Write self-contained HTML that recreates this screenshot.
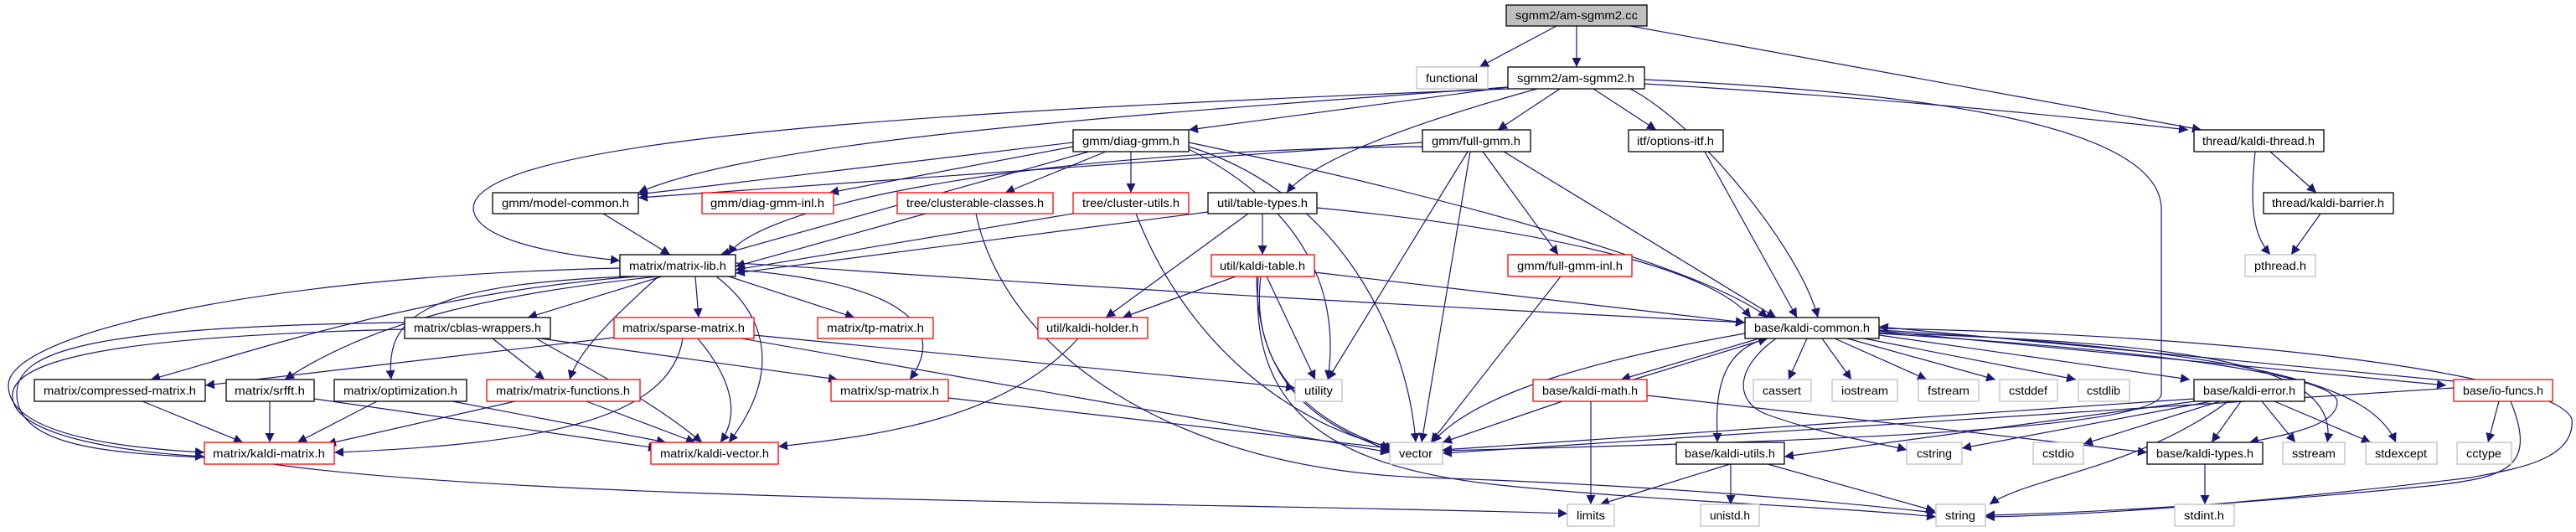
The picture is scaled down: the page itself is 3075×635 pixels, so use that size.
<!DOCTYPE html>
<html><head><meta charset="utf-8"><style>
html,body{margin:0;padding:0;background:#fff;}
svg{display:block;}
text{font-family:"Liberation Sans",sans-serif;font-size:14px;fill:#000;}
</style></head><body>
<svg width="3075" height="635" viewBox="0 0 3075 635" xmlns="http://www.w3.org/2000/svg">
<defs>
<marker id="a" viewBox="0 0 10 10" refX="10" refY="5" markerWidth="11" markerHeight="11" markerUnits="userSpaceOnUse" orient="auto">
<path d="M0,0 L10,5 L0,10 z" fill="#191970"/>
</marker>
</defs>
<g fill="none" stroke="#191970" stroke-width="1.2" marker-end="url(#a)">
<path d="M1858,31 L1766,80"/>
<path d="M1882,31 L1882,80"/>
<path d="M1946,31 L2628,155"/>
<path d="M1800,104 L1419,155"/>
<path d="M1862,106 L1788,155"/>
<path d="M1902,106 L1977,155"/>
<path d="M1835,106 C1640,160 1560,200 1536,230"/>
<path d="M1946,106 C2030,150 2150,300 2170,379"/>
<path d="M1963,100 Q2300,120 2612,155"/>
<path d="M1800,104 C1300,140 900,170 762,230"/>
<path d="M1800,106 C1200,130 560,160 565,250 C570,290 680,305 740,311"/>
<path d="M1963,95 C2300,110 2580,150 2580,250 L2580,470 C2580,520 2000,530 1722,538"/>
<path d="M1281,170 L762,232"/>
<path d="M1281,175 L990,230"/>
<path d="M1300,181 L860,304"/>
<path d="M1320,181 L1200,230"/>
<path d="M1350,181 L1350,230"/>
<path d="M1419,170 C1800,250 2050,330 2110,379"/>
<path d="M1419,175 C1600,230 1680,400 1690,528"/>
<path d="M1419,178 C1560,250 1600,350 1585,453"/>
<path d="M1698,170 L762,236"/>
<path d="M1698,175 C1200,180 900,250 870,304"/>
<path d="M1770,181 L1860,304"/>
<path d="M1795,181 L2120,379"/>
<path d="M1755,181 L1697,528"/>
<path d="M1752,181 L1585,453"/>
<path d="M2035,181 L2145,379"/>
<path d="M2710,181 L2765,230"/>
<path d="M2692,181 C2685,250 2690,280 2710,304"/>
<path d="M2770,255 L2735,304"/>
<path d="M720,255 L800,304"/>
<path d="M1105,255 L878,318"/>
<path d="M1165,255 C1200,420 1400,560 1700,570 C2000,580 2200,600 2311,612"/>
<path d="M1281,255 L878,322"/>
<path d="M1356,255 C1420,420 1550,510 1665,535"/>
<path d="M1442,253 L878,326"/>
<path d="M1507,255 L1507,304"/>
<path d="M1490,255 L1320,379"/>
<path d="M1572,248 C1900,280 2050,330 2090,379"/>
<path d="M1475,330 L1340,379"/>
<path d="M1512,330 L1570,453"/>
<path d="M1505,330 C1490,450 1580,510 1660,535"/>
<path d="M1500,330 C1500,480 1600,515 1665,540"/>
<path d="M1502,330 C1490,500 1600,560 1800,580 C2000,600 2200,605 2311,617"/>
<path d="M1569,325 L2083,385"/>
<path d="M1863,330 L1708,528"/>
<path d="M790,330 L630,379"/>
<path d="M830,330 L834,379"/>
<path d="M870,330 L1020,379"/>
<path d="M878,322 C1050,335 1140,380 1086,453"/>
<path d="M760,330 C500,350 300,420 180,453"/>
<path d="M785,330 C600,350 450,380 340,453"/>
<path d="M750,330 C500,340 460,380 467,453"/>
<path d="M786,330 C730,380 690,420 680,453"/>
<path d="M740,320 C300,330 10,400 10,460 C10,520 150,535 244,540"/>
<path d="M855,330 C920,380 930,450 870,528"/>
<path d="M878,314 C1000,320 1200,340 2083,385"/>
<path d="M588,404 L650,453"/>
<path d="M483,393 C200,400 20,420 15,470 C10,520 150,540 244,545"/>
<path d="M640,404 C720,450 780,480 838,528"/>
<path d="M645,404 L1000,453"/>
<path d="M483,385 C100,390 20,420 20,470 C20,550 200,540 300,550 C600,600 1500,600 1871,613"/>
<path d="M733,403 L245,460"/>
<path d="M815,404 C800,500 650,530 399,540"/>
<path d="M833,404 C880,460 880,500 860,528"/>
<path d="M900,400 L1546,463"/>
<path d="M885,404 L1659,540"/>
<path d="M170,479 L290,528"/>
<path d="M322,479 L322,528"/>
<path d="M375,476 L785,535"/>
<path d="M450,479 L355,528"/>
<path d="M540,479 L795,528"/>
<path d="M615,479 L390,530"/>
<path d="M700,479 L830,528"/>
<path d="M1132,475 L1659,535"/>
<path d="M1287,404 C1200,500 1050,520 929,533"/>
<path d="M2083,398 C1900,430 1760,470 1710,528"/>
<path d="M2100,404 L1935,453"/>
<path d="M1950,453 L2110,404"/>
<path d="M2110,404 C2040,420 2050,500 2050,528"/>
<path d="M2157,404 L2135,453"/>
<path d="M2175,404 L2210,453"/>
<path d="M2190,404 L2300,453"/>
<path d="M2205,404 L2382,453"/>
<path d="M2225,404 L2478,453"/>
<path d="M2243,400 L2614,453"/>
<path d="M2243,395 L2920,460"/>
<path d="M2929,455 L2243,390"/>
<path d="M2243,398 C2600,420 2790,450 2790,480 C2790,510 2720,520 2685,528"/>
<path d="M2243,397 C2600,410 2795,430 2778,528"/>
<path d="M2243,394 C2700,420 2830,460 2860,528"/>
<path d="M2120,404 C2070,440 2070,480 2110,495 C2180,520 2250,530 2276,537"/>
<path d="M2243,392 C2700,400 3050,450 3070,500 C3075,550 3000,560 2950,570 C2700,600 2500,615 2370,617"/>
<path d="M1865,479 L1722,528"/>
<path d="M1899,479 L1899,602"/>
<path d="M1966,472 L2563,540"/>
<path d="M2619,476 L1722,537"/>
<path d="M2620,479 L2130,545"/>
<path d="M2640,479 L2342,535"/>
<path d="M2650,479 L2487,530"/>
<path d="M2675,479 L2640,528"/>
<path d="M2700,479 L2740,528"/>
<path d="M2715,479 L2830,528"/>
<path d="M2660,479 C2550,560 2420,570 2375,602"/>
<path d="M2929,463 L1722,541"/>
<path d="M2983,479 L2970,528"/>
<path d="M2997,479 C3030,560 2990,570 2900,580 C2700,600 2500,612 2370,615"/>
<path d="M2065,554 L1910,602"/>
<path d="M2066,554 L2066,602"/>
<path d="M2110,554 L2310,610"/>
<path d="M2632,554 L2632,602"/>
</g>
<g stroke-width="1.3" text-anchor="middle">
<!-- node helper: rect + text -->
<rect x="1798" y="6" width="168" height="25" fill="#bfbfbf" stroke="#000"/><text x="1882" y="23" textLength="146" lengthAdjust="spacingAndGlyphs">sgmm2/am-sgmm2.cc</text>
<rect x="1691" y="80" width="85" height="26" fill="#fff" stroke="#bfbfbf"/><text x="1733" y="98" textLength="62" lengthAdjust="spacingAndGlyphs">functional</text>
<rect x="1800" y="80" width="163" height="26" fill="#fff" stroke="#000"/><text x="1881" y="98" textLength="140" lengthAdjust="spacingAndGlyphs">sgmm2/am-sgmm2.h</text>
<rect x="1281" y="155" width="138" height="26" fill="#fff" stroke="#000"/><text x="1350" y="173" textLength="116" lengthAdjust="spacingAndGlyphs">gmm/diag-gmm.h</text>
<rect x="1698" y="155" width="129" height="26" fill="#fff" stroke="#000"/><text x="1762" y="173" textLength="106" lengthAdjust="spacingAndGlyphs">gmm/full-gmm.h</text>
<rect x="1944" y="155" width="113" height="26" fill="#fff" stroke="#000"/><text x="2000" y="173" textLength="92" lengthAdjust="spacingAndGlyphs">itf/options-itf.h</text>
<rect x="2619" y="155" width="155" height="26" fill="#fff" stroke="#000"/><text x="2696" y="173" textLength="134" lengthAdjust="spacingAndGlyphs">thread/kaldi-thread.h</text>
<rect x="588" y="230" width="174" height="25" fill="#fff" stroke="#000"/><text x="675" y="247" textLength="152" lengthAdjust="spacingAndGlyphs">gmm/model-common.h</text>
<rect x="838" y="230" width="157" height="25" fill="#fff" stroke="#f00"/><text x="916" y="247" textLength="136" lengthAdjust="spacingAndGlyphs">gmm/diag-gmm-inl.h</text>
<rect x="1071" y="230" width="186" height="25" fill="#fff" stroke="#f00"/><text x="1164" y="247" textLength="164" lengthAdjust="spacingAndGlyphs">tree/clusterable-classes.h</text>
<rect x="1281" y="230" width="138" height="25" fill="#fff" stroke="#f00"/><text x="1350" y="247" textLength="116" lengthAdjust="spacingAndGlyphs">tree/cluster-utils.h</text>
<rect x="1442" y="230" width="130" height="25" fill="#fff" stroke="#000"/><text x="1507" y="247" textLength="108" lengthAdjust="spacingAndGlyphs">util/table-types.h</text>
<rect x="2702" y="230" width="155" height="25" fill="#fff" stroke="#000"/><text x="2779" y="247" textLength="134" lengthAdjust="spacingAndGlyphs">thread/kaldi-barrier.h</text>
<rect x="740" y="304" width="138" height="26" fill="#fff" stroke="#000"/><text x="809" y="322" textLength="116" lengthAdjust="spacingAndGlyphs">matrix/matrix-lib.h</text>
<rect x="1446" y="304" width="123" height="26" fill="#fff" stroke="#f00"/><text x="1507" y="322" textLength="102" lengthAdjust="spacingAndGlyphs">util/kaldi-table.h</text>
<rect x="1800" y="304" width="148" height="26" fill="#fff" stroke="#f00"/><text x="1874" y="322" textLength="126" lengthAdjust="spacingAndGlyphs">gmm/full-gmm-inl.h</text>
<rect x="2680" y="304" width="84" height="26" fill="#fff" stroke="#bfbfbf"/><text x="2722" y="322" textLength="62" lengthAdjust="spacingAndGlyphs">pthread.h</text>
<rect x="483" y="379" width="174" height="25" fill="#fff" stroke="#000"/><text x="570" y="396" textLength="152" lengthAdjust="spacingAndGlyphs">matrix/cblas-wrappers.h</text>
<rect x="733" y="379" width="167" height="25" fill="#fff" stroke="#f00"/><text x="816" y="396" textLength="146" lengthAdjust="spacingAndGlyphs">matrix/sparse-matrix.h</text>
<rect x="976" y="379" width="138" height="25" fill="#fff" stroke="#f00"/><text x="1045" y="396" textLength="116" lengthAdjust="spacingAndGlyphs">matrix/tp-matrix.h</text>
<rect x="1239" y="379" width="131" height="25" fill="#fff" stroke="#f00"/><text x="1304" y="396" textLength="110" lengthAdjust="spacingAndGlyphs">util/kaldi-holder.h</text>
<rect x="2083" y="379" width="160" height="25" fill="#fff" stroke="#000"/><text x="2163" y="396" textLength="138" lengthAdjust="spacingAndGlyphs">base/kaldi-common.h</text>
<rect x="41" y="453" width="204" height="26" fill="#fff" stroke="#000"/><text x="143" y="471" textLength="182" lengthAdjust="spacingAndGlyphs">matrix/compressed-matrix.h</text>
<rect x="270" y="453" width="105" height="26" fill="#fff" stroke="#000"/><text x="322" y="471" textLength="84" lengthAdjust="spacingAndGlyphs">matrix/srfft.h</text>
<rect x="399" y="453" width="158" height="26" fill="#fff" stroke="#000"/><text x="478" y="471" textLength="136" lengthAdjust="spacingAndGlyphs">matrix/optimization.h</text>
<rect x="581" y="453" width="183" height="26" fill="#fff" stroke="#f00"/><text x="672" y="471" textLength="160" lengthAdjust="spacingAndGlyphs">matrix/matrix-functions.h</text>
<rect x="992" y="453" width="140" height="26" fill="#fff" stroke="#f00"/><text x="1062" y="471" textLength="118" lengthAdjust="spacingAndGlyphs">matrix/sp-matrix.h</text>
<rect x="1546" y="453" width="56" height="26" fill="#fff" stroke="#bfbfbf"/><text x="1574" y="471" textLength="34" lengthAdjust="spacingAndGlyphs">utility</text>
<rect x="1830" y="453" width="136" height="26" fill="#fff" stroke="#f00"/><text x="1898" y="471" textLength="114" lengthAdjust="spacingAndGlyphs">base/kaldi-math.h</text>
<rect x="2093" y="453" width="69" height="26" fill="#fff" stroke="#bfbfbf"/><text x="2127" y="471" textLength="46" lengthAdjust="spacingAndGlyphs">cassert</text>
<rect x="2187" y="453" width="78" height="26" fill="#fff" stroke="#bfbfbf"/><text x="2226" y="471" textLength="56" lengthAdjust="spacingAndGlyphs">iostream</text>
<rect x="2290" y="453" width="72" height="26" fill="#fff" stroke="#bfbfbf"/><text x="2326" y="471" textLength="50" lengthAdjust="spacingAndGlyphs">fstream</text>
<rect x="2387" y="453" width="69" height="26" fill="#fff" stroke="#bfbfbf"/><text x="2421" y="471" textLength="46" lengthAdjust="spacingAndGlyphs">cstddef</text>
<rect x="2481" y="453" width="61" height="26" fill="#fff" stroke="#bfbfbf"/><text x="2511" y="471" textLength="40" lengthAdjust="spacingAndGlyphs">cstdlib</text>
<rect x="2619" y="453" width="132" height="26" fill="#fff" stroke="#000"/><text x="2685" y="471" textLength="110" lengthAdjust="spacingAndGlyphs">base/kaldi-error.h</text>
<rect x="2929" y="453" width="118" height="26" fill="#fff" stroke="#f00"/><text x="2988" y="471" textLength="96" lengthAdjust="spacingAndGlyphs">base/io-funcs.h</text>
<rect x="244" y="528" width="155" height="26" fill="#fff" stroke="#f00"/><text x="321" y="546" textLength="134" lengthAdjust="spacingAndGlyphs">matrix/kaldi-matrix.h</text>
<rect x="777" y="528" width="152" height="26" fill="#fff" stroke="#f00"/><text x="853" y="546" textLength="130" lengthAdjust="spacingAndGlyphs">matrix/kaldi-vector.h</text>
<rect x="1659" y="528" width="63" height="26" fill="#fff" stroke="#bfbfbf"/><text x="1690" y="546" textLength="40" lengthAdjust="spacingAndGlyphs">vector</text>
<rect x="2001" y="528" width="129" height="26" fill="#fff" stroke="#000"/><text x="2065" y="546" textLength="108" lengthAdjust="spacingAndGlyphs">base/kaldi-utils.h</text>
<rect x="2276" y="528" width="66" height="26" fill="#fff" stroke="#bfbfbf"/><text x="2309" y="546" textLength="42" lengthAdjust="spacingAndGlyphs">cstring</text>
<rect x="2427" y="528" width="60" height="26" fill="#fff" stroke="#bfbfbf"/><text x="2457" y="546" textLength="38" lengthAdjust="spacingAndGlyphs">cstdio</text>
<rect x="2563" y="528" width="138" height="26" fill="#fff" stroke="#000"/><text x="2632" y="546" textLength="116" lengthAdjust="spacingAndGlyphs">base/kaldi-types.h</text>
<rect x="2725" y="528" width="74" height="26" fill="#fff" stroke="#bfbfbf"/><text x="2762" y="546" textLength="52" lengthAdjust="spacingAndGlyphs">sstream</text>
<rect x="2824" y="528" width="85" height="26" fill="#fff" stroke="#bfbfbf"/><text x="2866" y="546" textLength="62" lengthAdjust="spacingAndGlyphs">stdexcept</text>
<rect x="2933" y="528" width="65" height="26" fill="#fff" stroke="#bfbfbf"/><text x="2965" y="546" textLength="42" lengthAdjust="spacingAndGlyphs">cctype</text>
<rect x="1871" y="602" width="56" height="26" fill="#fff" stroke="#bfbfbf"/><text x="1899" y="620" textLength="34" lengthAdjust="spacingAndGlyphs">limits</text>
<rect x="2030" y="602" width="70" height="26" fill="#fff" stroke="#bfbfbf"/><text x="2065" y="620" textLength="48" lengthAdjust="spacingAndGlyphs">unistd.h</text>
<rect x="2311" y="602" width="59" height="26" fill="#fff" stroke="#bfbfbf"/><text x="2340" y="620" textLength="36" lengthAdjust="spacingAndGlyphs">string</text>
<rect x="2596" y="602" width="71" height="26" fill="#fff" stroke="#bfbfbf"/><text x="2631" y="620" textLength="48" lengthAdjust="spacingAndGlyphs">stdint.h</text>
</g>
</svg>
</body></html>
